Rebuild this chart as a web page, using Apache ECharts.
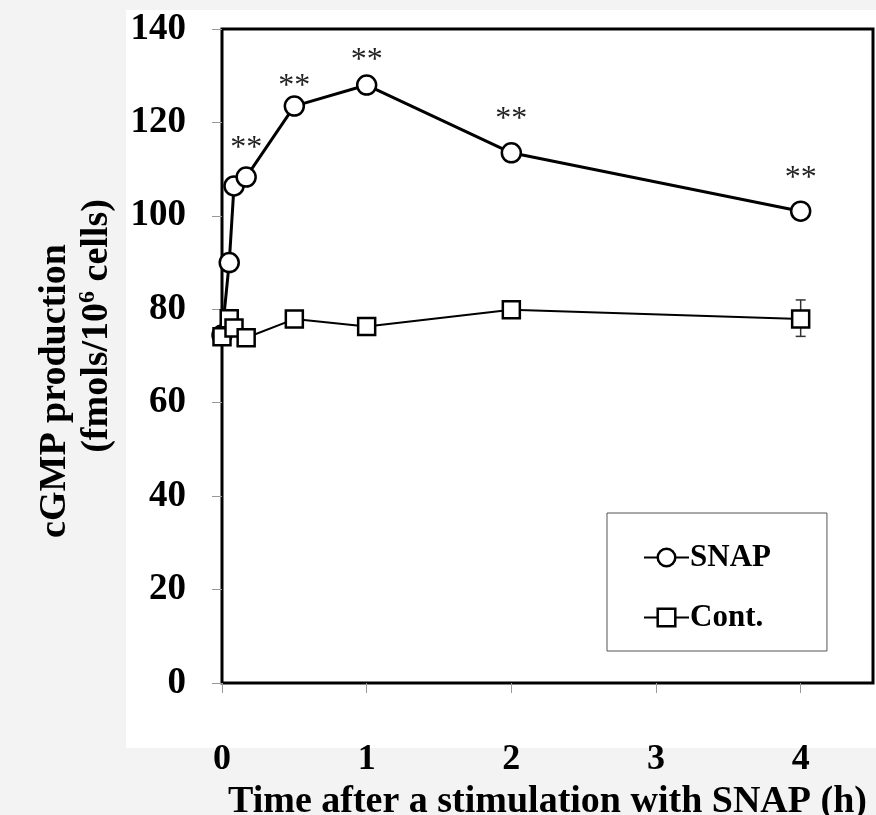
<!DOCTYPE html>
<html>
<head>
<meta charset="utf-8">
<script src="https://cdn.jsdelivr.net/npm/echarts@6/dist/echarts.min.js"></script>
<style>
  html, body { margin: 0; padding: 0; background: #f3f3f3; }
  #main { width: 876px; height: 815px; }
</style>
</head>
<body>
<div id="main"></div>
<script>
// time points (h) and cGMP (fmols/10^6 cells)
const times = [0, 0.05, 0.083, 0.167, 0.5, 1, 2, 4];
const snapValues = [74.5, 90, 106.4, 108.3, 123.5, 128, 113.5, 101];
const contValues = [74.1, 78, 76, 73.9, 77.9, 76.3, 79.9, 77.9];
// significance marks above SNAP points
const sigMarks = ['', '', '', '**', '**', '**', '**', '**'];
// visible error bar on the control: [time, low, high]
const contErrors = [[4, 74.2, 82.0]];
const xTicks = [0, 1, 2, 3, 4];

const serif = '"Liberation Serif", "Times New Roman", serif';
// how far each "**" sits above its point (px)
const markLift = [0, 0, 0, 2, -7, -2, 6, 6];

const chart = echarts.init(document.getElementById('main'));

const snapData = times.map((t, i) => {
  const item = { value: [t, snapValues[i]] };
  if (sigMarks[i]) {
    item.label = {
      show: true,
      position: 'top',
      distance: markLift[i],
      formatter: sigMarks[i],
      fontFamily: serif,
      fontSize: 32,
      color: '#222'
    };
  }
  return item;
});

const option = {
  backgroundColor: '#f3f3f3',
  animation: false,
  graphic: [
    { type: 'rect', z: -10, silent: true,
      shape: { x: 126, y: 10, width: 750, height: 738 },
      style: { fill: '#ffffff' } }
  ],
  grid: {
    left: 222, right: 3, top: 29, bottom: 132,
    outerBoundsMode: 'none',
    show: true,
    borderColor: '#000',
    borderWidth: 3,
    backgroundColor: 'transparent'
  },
  legend: {
    left: 607,
    top: 513,
    orient: 'vertical',
    padding: [29, 56, 18, 36],
    itemGap: 29,
    itemWidth: 45,
    itemHeight: 22,
    borderColor: '#555',
    borderWidth: 1,
    backgroundColor: '#fff',
    itemStyle: { borderWidth: 2.5 },
    textStyle: { fontFamily: serif, fontWeight: 'bold', fontSize: 31, color: '#000', padding: [0, 0, 0, -4] },
    data: ['SNAP', 'Cont.']
  },
  xAxis: {
    type: 'value',
    min: 0,
    max: 4.5,
    interval: 1,
    splitLine: { show: false },
    axisLine: { show: false },
    axisTick: { show: true, length: 10, lineStyle: { color: '#999', width: 1 }, customValues: xTicks },
    axisLabel: {
      customValues: xTicks,
      margin: 59,
      fontFamily: serif, fontWeight: 'bold', fontSize: 36, color: '#000'
    },
    name: 'Time after a stimulation with SNAP (h)',
    nameLocation: 'middle',
    nameGap: 95,
    nameTextStyle: { fontFamily: serif, fontWeight: 'bold', fontSize: 38, color: '#000' }
  },
  yAxis: {
    type: 'value',
    min: 0,
    max: 140,
    interval: 20,
    splitLine: { show: false },
    axisLine: { show: false },
    axisTick: { show: true, length: 10, lineStyle: { color: '#999', width: 1 } },
    axisLabel: {
      margin: 36, padding: [24, 0, 0, 0],
      fontFamily: serif, fontWeight: 'bold', fontSize: 37, color: '#000'
    },
    name: 'cGMP production{gapA| }\n{gapB| }(fmols/10{sup|6} cells)',
    nameLocation: 'middle',
    nameGap: 104,
    nameTextStyle: {
      fontFamily: serif, fontWeight: 'bold', fontSize: 38, color: '#000', lineHeight: 42,
      rich: {
        sup: { fontFamily: serif, fontWeight: 'bold', fontSize: 24, color: '#000', verticalAlign: 'top', lineHeight: 42 },
        gapA: { width: 70, fontSize: 38, lineHeight: 42 },
        gapB: { width: 60, fontSize: 38, lineHeight: 42 }
      }
    }
  },
  series: [
    {
      name: 'SNAP',
      type: 'line',
      data: snapData,
      symbol: 'circle',
      symbolSize: 19,
      lineStyle: { color: '#000', width: 3 },
      itemStyle: { color: '#fff', borderColor: '#000', borderWidth: 2.5 },
      z: 3
    },
    {
      name: 'errbar',
      type: 'custom',
      data: contErrors,
      z: 4,
      silent: true,
      renderItem: (params, api) => {
        const top = api.coord([api.value(0), api.value(2)]);
        const bot = api.coord([api.value(0), api.value(1)]);
        const cap = 5;
        const st = { stroke: '#333', lineWidth: 1.5 };
        return {
          type: 'group',
          children: [
            { type: 'line', shape: { x1: top[0], y1: top[1], x2: bot[0], y2: bot[1] }, style: st },
            { type: 'line', shape: { x1: top[0] - cap, y1: top[1], x2: top[0] + cap, y2: top[1] }, style: st },
            { type: 'line', shape: { x1: bot[0] - cap, y1: bot[1], x2: bot[0] + cap, y2: bot[1] }, style: st }
          ]
        };
      }
    },
    {
      name: 'Cont.',
      type: 'line',
      data: times.map((t, i) => [t, contValues[i]]),
      symbol: 'rect',
      symbolSize: 17,
      lineStyle: { color: '#000', width: 2 },
      itemStyle: { color: '#fff', borderColor: '#000', borderWidth: 2.5 },
      z: 5
    }
  ]
};

chart.setOption(option);
</script>
</body>
</html>
